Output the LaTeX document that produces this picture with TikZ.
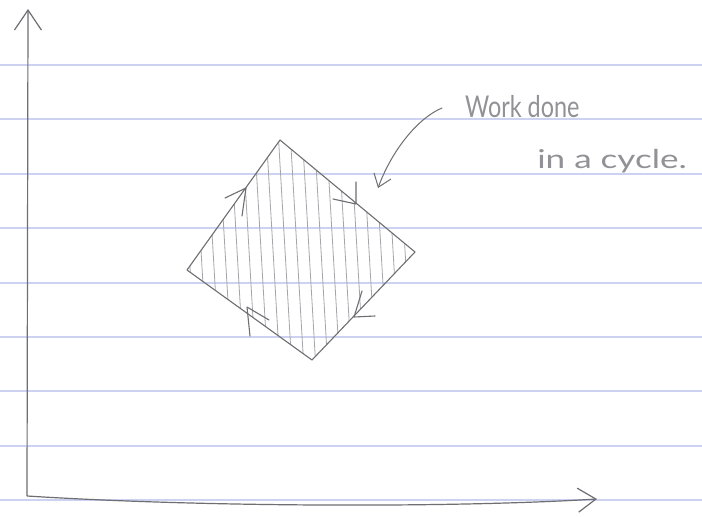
\documentclass[tikz,border=0pt]{standalone}
\usepackage{fontspec}
\setmainfont{Lato}
\usetikzlibrary{arrows.meta}
\definecolor{paperline}{RGB}{205,210,242}
\definecolor{pencil}{RGB}{110,110,115}
\definecolor{hatch}{RGB}{165,165,170}
\definecolor{writing}{RGB}{145,145,150}
\tikzset{
  ruled/.style={paperline, line width=2pt},
  edge/.style={pencil, line width=1.1pt, line cap=round, line join=round},
  axisline/.style={pencil, line width=1.2pt},
  hatchline/.style={hatch, line width=0.8pt},
  txt/.style={writing, inner sep=0pt},
}
\begin{document}
\begin{tikzpicture}[x=1pt,y=-1pt]
\useasboundingbox (0,0) rectangle (702,517);
\fill[white] (0,0) rectangle (702,517);
% ruled paper lines
\foreach \yy in {65,119,174,228,283,337,391,446,500} {
  \draw[ruled] (0,\yy) -- (702,\yy);
}
% coordinates
\coordinate (O) at (27,496);
\coordinate (Ytip) at (28,9);
\coordinate (Xtip) at (597,499);
\coordinate (T) at (280,140);
\coordinate (R) at (415,252);
\coordinate (B) at (312,360);
\coordinate (L) at (187,270);
% hatching
\begin{scope}
  \clip (T) -- (R) -- (B) -- (L) -- cycle;
  \foreach \x in {170,182,...,430} {
    \draw[hatchline] (\x,130) -- (\x+14,370);
  }
\end{scope}
% cycle edges
\draw[edge] (L) -- (T) -- (R) -- (B) -- cycle;
% direction marks (clockwise)
\draw[edge] (225,198) -- (246,188) -- (242,216);
\draw[edge] (333,199) -- (356,204) -- (356,182);
\draw[edge] (362,291) -- (354,317) -- (375,316);
\draw[edge] (269,320) -- (247,307) -- (250,336);
% axes
\draw[axisline, -{Straight Barb[length=20pt,width=27pt,line width=1.2pt]}] (O) -- (Ytip);
\draw[axisline, -{Straight Barb[length=18pt,width=24pt,line width=1.2pt]}] (O) .. controls (200,507) and (450,508) .. (Xtip);
% label
\node[txt, anchor=base west, xscale=0.78, font=\fontsize{30}{30}\selectfont] (t1) at (465,117) {Work done};
\node[txt, anchor=base west, xscale=1.35, font=\fontsize{26}{26}\selectfont] (t2) at (537,168) {in a cycle.};
\coordinate (As) at (442,108);
\coordinate (Ae) at (378,188);
\draw[edge, line width=1pt, -{Straight Barb[length=12pt,width=18pt,line width=1pt]}] (As) .. controls (418,118) and (392,150) .. (Ae);
\end{tikzpicture}
\end{document}
